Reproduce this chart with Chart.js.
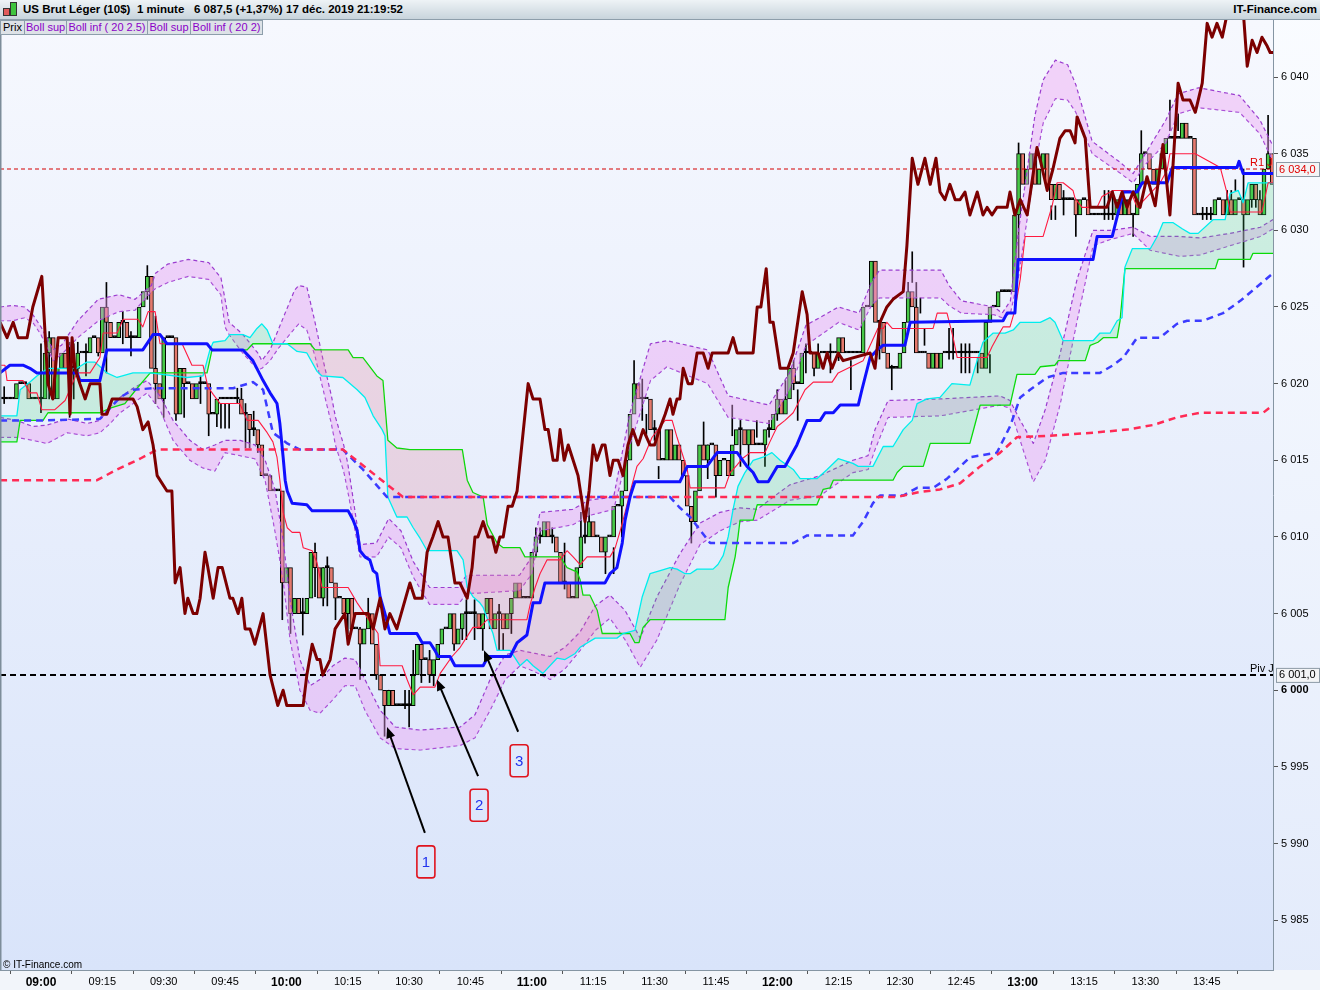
<!DOCTYPE html>
<html>
<head>
<meta charset="utf-8">
<script src="https://cdn.jsdelivr.net/npm/chart.js@4.4.1/dist/chart.umd.min.js"></script>
<style>
  body { margin:0; width:1320px; height:990px; overflow:hidden; position:relative;
         background:linear-gradient(#fafcff,#e3ebfb); font-family:"Liberation Sans",Arial,sans-serif; }
  #head { position:absolute; left:0; top:0; width:1320px; height:19px; border-bottom:1px solid #8d9eab;
          background:linear-gradient(#eef3f6,#c8d4dc); font-size:11.5px; font-weight:bold; line-height:19px; }
  #head span { position:absolute; top:0; white-space:nowrap; }
  #head i { position:absolute; width:5px; border:1px solid #333; }
  #leg { position:absolute; left:0; top:20px; height:14px; z-index:2; }
  #leg span { position:absolute; top:0; height:13px; line-height:13px; font-size:11px; color:#8a00c8; text-align:center;
              background:#dde2e7; border:1px solid #8d9eab; padding:0 1px; white-space:nowrap; overflow:hidden; }
  #wrap { position:absolute; left:0; top:20px; width:1320px; height:970px; }
</style>
</head>
<body>
<div id="head">
  <i style="left:3px;top:8px;height:6px;background:#e05a5a"></i>
  <i style="left:10px;top:2px;height:12px;background:#3fc43f"></i>
  <span style="left:23px">US Brut Léger (10$)</span>
  <span style="left:137px">1 minute</span>
  <span style="left:194px">6 087,5 (+1,37%)</span>
  <span style="left:286px">17 déc. 2019 21:19:52</span>
  <span style="right:3px">IT-Finance.com</span>
</div>
<div id="leg">
  <span style="left:0;width:21px;color:#000">Prix</span>
  <span style="left:24px;width:39px">Boll sup</span>
  <span style="left:66px;width:78px">Boll inf ( 20 2.5)</span>
  <span style="left:147px;width:40px">Boll sup</span>
  <span style="left:190px;width:69px">Boll inf ( 20 2)</span>
</div>
<div id="wrap"><canvas id="chart" width="1320" height="970"></canvas></div>
<script>
// minutes counted from 09:00, one candle per minute from 08:50
const firstMinute = -10;
const firstOpen = 6019;
const closes = [
  6019, 6019, 6019, 6019, 6020, 6020, 6020, 6019, 6019, 6019,
  6019, 6022, 6023, 6019, 6021, 6022, 6021, 6021, 6021, 6022, 6022, 6022, 6023, 6023, 6022, 6025,
  6024, 6023, 6023, 6024, 6024, 6023, 6023, 6023, 6025, 6026,
  6027, 6021, 6020, 6019, 6023, 6023, 6023, 6018, 6021, 6020,
  6020, 6019, 6020, 6020, 6020, 6018, 6018, 6019, 6019, 6019,
  6019, 6019, 6019, 6018, 6018, 6017, 6017, 6016, 6014, 6014,
  6013, 6013, 6013, 6007, 6008, 6005, 6006, 6005, 6005, 6006,
  6009, 6008, 6006, 6008, 6008, 6007, 6006, 6006, 6005, 6006,
  6004, 6004, 6003, 6004, 6005, 6003, 6001, 6000, 5999, 6000,
  5999, 5999, 5999, 5999, 5999, 6001, 6003, 6002, 6002, 6001,
  6002, 6003, 6004, 6004, 6005, 6003, 6004, 6005, 6005, 6005,
  6005, 6004, 6005, 6006, 6004, 6005, 6005, 6004, 6005, 6006,
  6007, 6006, 6006, 6006, 6009, 6010, 6010, 6011, 6010, 6010,
  6009, 6007, 6007, 6006, 6006, 6008, 6010, 6010, 6011, 6010,
  6010, 6009, 6010, 6010, 6012, 6012, 6013, 6015, 6018, 6020,
  6019, 6019, 6019, 6017, 6017, 6015, 6015, 6017, 6015, 6016,
  6015, 6014, 6012, 6011, 6013, 6016, 6015, 6016, 6016, 6014,
  6015, 6015, 6014, 6016, 6017, 6017, 6016, 6017, 6016, 6016,
  6016, 6017, 6017, 6018, 6019, 6018, 6019, 6021, 6020, 6020,
  6022, 6022, 6022, 6021, 6022, 6022, 6022, 6022, 6022, 6023,
  6022, 6022, 6022, 6022, 6022, 6025, 6025, 6028, 6024, 6024,
  6022, 6021, 6021, 6021, 6022, 6024, 6026, 6025, 6022, 6022,
  6022, 6021, 6022, 6021, 6022, 6022, 6022, 6022, 6022, 6022,
  6022, 6022, 6022, 6022, 6021, 6024, 6025, 6025, 6026, 6026,
  6026, 6026, 6031, 6035, 6033, 6034, 6035, 6033, 6034, 6035,
  6033, 6032, 6033, 6032, 6032, 6032, 6032, 6031, 6032, 6032,
  6031, 6031, 6031, 6031, 6031, 6031, 6031, 6032, 6031, 6032,
  6031, 6031, 6033, 6035, 6035, 6034, 6033, 6034, 6035, 6036,
  6036, 6036, 6036, 6037, 6036, 6036, 6031, 6031, 6031, 6031,
  6031, 6032, 6032, 6031, 6032, 6031, 6032, 6032, 6031, 6032,
  6033, 6032, 6031, 6034, 6035, 6033
];
// [minute, high, low] for the visible wicks
const wicks = [
  [-9,6019.8,6018.7],[0,6022.6,6018.1],[2,6023.4,6019],[3,6022.7,6019],[7,6022.7,6017.8],[8,6022.6,6019],
  [9,6022.7,6020.5],[11,6022.6,6020.5],[14,6022.7,6021.8],[16,6026.6,6020.7],[20,6024.7,6022.6],[22,6023.4,6021.8],
  [26,6027.7,6025.5],[28,6024.4,6018.7],[30,6022.6,6017.8],[33,6022.6,6017.6],[35,6020.5,6017.8],[39,6020.5,6018.7],
  [41,6019.7,6016.6],[43,6018.7,6017.2],[44,6018.7,6017.1],[45,6018.7,6017.1],[46,6018.7,6017.1],[48,6019.7,6018.7],
  [49,6019.7,6018.5],[50,6018.7,6015.8],[51,6017.6,6015.8],[52,6018.2,6016.6],[53,6016.5,6015.5],[59,6007,6004.6],
  [61,6007.6,6003.7],[64,6006,6003.6],[67,6009.6,6006.1],[69,6008,6005.5],[70,6008.7,6005.5],[72,6006.3,6004.6],
  [75,6005.7,6003.7],[78,6004.1,6000.7],[80,6006,6004.6],[82,6002.1,6000.7],[84,5999.4,5997],[85,6000,5999.4],
  [89,6000,5998.8],[90,6000,5997.6],[91,6002.6,5999.6],[93,6002,6000.5],[95,6002.6,6000.5],[96,6001.5,6000.3],
  [101,6004.6,6002.6],[103,6004.6,6003.3],[104,6005.9,6003.3],[106,6005.9,6003.3],[108,6004,6002.6],[112,6005.6,6002.6],
  [113,6003.7,6002.6],[115,6005.6,6003.7],[121,6010.6,6008.7],[122,6010.6,6009.6],[125,6010.6,6009.6],[128,6009.6,6006.6],
  [132,6011.6,6009.6],[133,6011.6,6009.6],[134,6011.9,6010.6],[138,6009,6007.6],[140,6009.3,6007.6],[142,6012.2,6010],
  [145,6021.5,6019.6],[147,6020.3,6017.6],[148,6018,6016.5],[150,6017.6,6016.3],[151,6014.6,6013.8],[159,6011.6,6009.6],
  [162,6017.5,6016],[163,6016,6013.8],[165,6015,6012.6],[168,6015,6014],[169,6018.6,6016.6],[171,6017.6,6014.6],
  [173,6016.5,6014.6],[175,6017.6,6016.5],[177,6016.5,6014.6],[178,6017.6,6016.5],[180,6019.6,6017.6],[182,6020.2,6019],
  [184,6021.5,6019.6],[185,6019.6,6017.6],[187,6022.6,6020.7],[189,6021.5,6020.5],[190,6022.6,6021.5],[193,6022.6,6020.7],
  [195,6022.6,6021.5],[198,6021.5,6019.6],[201,6025,6024],[205,6024,6021.6],[208,6021.2,6019.6],[212,6026.6,6024.6],
  [213,6028.6,6026.6],[214,6026.6,6023.6],[215,6025.6,6024.6],[216,6023.6,6022.5],[222,6023.6,6021.6],[223,6023.6,6021.6],
  [225,6022.6,6020.7],[226,6022.6,6020.7],[227,6022.6,6020.7],[229,6021.7,6020.7],[232,6021.9,6020.7],[239,6035.7,6028],
  [247,6031.6,6030.7],[248,6031.6,6030.7],[250,6032.6,6031],[253,6031,6029.6],[260,6032.6,6030.7],[261,6032.6,6030.7],
  [262,6032.6,6030.7],[267,6031,6029.6],[269,6036.5,6034.5],[276,6038.5,6036.5],[278,6037.6,6036.5],[284,6031.5,6030.7],
  [285,6031.5,6030.7],[286,6031.5,6030.7],[290,6032.6,6031.5],[291,6032.6,6031.5],[292,6033.3,6032.6],[294,6034,6027.6],
  [296,6032.6,6031.5],[297,6032.6,6031.5],[298,6032.6,6031.5],[300,6037.5,6034]
];
// lagging line (close drawn 26 minutes back)
const chikou = [
  [-10,6024],[-8.3,6023],[-6.8,6024],[-5.6,6023],[-3.4,6023],[-2,6025],[0.2,6027],[1.7,6020],[2.9,6019],[4.2,6023],
  [6.4,6023],[7.1,6018],[7.6,6023],[8.3,6021],[9.5,6020],[10.8,6019],[12,6020],[14.4,6020],[14.9,6018],[16.1,6018],
  [17.4,6019],[22.5,6019],[23.5,6018.5],[24.9,6017],[26.2,6017.5],[27.4,6016],[28.4,6014],[30.8,6013],[32,6013],[32.8,6007],
  [34,6008],[35.2,6005],[35.9,6006],[37.2,6005],[38.1,6005],[38.9,6006],[40.1,6009],[40.8,6008],[42.1,6006],[43.3,6008],
  [44.3,6008],[46.2,6006],[46.9,6006],[48.2,6005],[49.1,6006],[49.9,6004],[51.1,6004],[52.3,6003],[54.3,6005],[56,6001],
  [57.9,5999],[59.2,6000],[60.1,5999],[64.1,5999],[65,6001],[66.3,6003],[67.5,6002],[68.2,6002],[68.9,6001],[70.7,6002],
  [71.9,6004],[74.3,6005],[75.1,6003],[76.8,6005],[80,6005],[81.2,6004],[82.9,6006],[84.1,6004],[85.3,6005],[87,6004],
  [90.2,6007],[91.4,6006],[93.2,6006],[94.4,6009],[95.8,6010],[97.1,6011],[98.3,6010],[99.5,6010],[101.2,6007],[102.4,6007],
  [104.2,6006],[105.4,6008],[106.1,6010],[106.8,6010],[108.1,6011],[109.3,6010],[110.3,6010],[111.2,6009],[112.2,6010],[113,6010],
  [114.2,6012],[115.2,6012],[116.4,6013],[119.1,6020],[120.3,6019],[122,6019],[123.2,6017],[124,6017],[125.2,6015],[126.2,6015],
  [126.9,6017],[127.9,6015],[128.9,6016],[130.1,6015],[131.3,6014],[133,6011],[134,6013],[135,6016],[135.9,6015],[137.2,6016],
  [137.9,6016],[139.1,6014],[139.9,6015],[141.1,6015],[142.3,6014],[143.5,6016],[144.7,6017],[146,6016],[147.2,6017],[148.9,6016],
  [150,6016],[151.2,6017],[152.6,6018],[153.8,6019],[154.5,6018],[155.5,6019],[156.2,6019],[157,6021],[158.2,6020],[159.2,6020],
  [160.4,6022],[161.9,6022],[163.1,6021],[164.1,6022],[168,6022],[169.2,6023],[170.2,6022],[174.1,6022],[175.1,6025],[176,6025],
  [177.3,6027.5],[178.2,6024],[179,6024],[180.7,6021],[182.6,6021],[183.9,6022],[186.1,6026],[187.3,6024.5],[188,6022],[188.8,6022],
  [190,6022],[191.2,6021],[192.2,6022],[193.4,6021],[194.9,6022],[196.1,6021.5],[202.7,6022],[203.9,6021],[205.1,6024],[206.8,6025],
  [208.3,6025.5],[210.8,6026],[211.7,6029],[213,6034.7],[214.4,6033],[216.1,6034.7],[217.4,6033],[218.8,6034.7],[219.8,6032.5],[221,6032],
  [222.2,6033],[223.5,6032],[224.7,6032],[225.9,6032.5],[227.1,6031],[228.9,6032.5],[230.3,6031],[231.3,6031.5],[232.5,6031],[233.7,6031.5],
  [236.2,6031.5],[236.9,6032.5],[238.1,6031],[239.4,6032],[241.1,6031],[243.5,6035.4],[244.3,6034.6],[246,6032.6],[247.4,6034],[249.1,6036],
  [250.4,6036.5],[251.6,6036.5],[252.8,6035.7],[253.3,6037.4],[255.3,6036],[256.5,6031.5],[260.6,6031.5],[261.9,6032.5],[263.1,6031.5],[264.3,6032.5],
  [265.5,6031.5],[267,6032.5],[268.7,6031.5],[270.4,6033.5],[272.4,6031.6],[274.3,6035.6],[276,6031],[278,6039.6],[279.2,6038.5],[280.9,6038.5],
  [282.2,6037.7],[283.9,6039.6],[285.1,6043.5],[286.3,6042.6],[287.5,6043.5],[288.8,6042.6],[290.2,6044.4],[293.9,6044.4],[294.9,6040.7],[296.1,6042.4],
  [297.3,6041.6],[298.5,6042.6],[299.8,6042],[300.5,6041.6],[301.2,6041.6]
];
const kijun = [
  [-10,6020.7],[-7.6,6021.2],[-4.4,6021.2],[-2.7,6021],[-1,6020.7],[8.8,6020.7],[9.5,6020.2],[14.4,6020.2],[16.1,6022.2],[24.9,6022.2],
  [27.4,6023.2],[29.1,6023.2],[30.8,6022.6],[40.6,6022.6],[41.8,6022.2],[49.4,6022.2],[51.8,6021.5],[54.3,6020.2],[56,6019.4],[57.7,6018.7],
  [58.4,6017.4],[59.2,6015.2],[59.7,6013.7],[60.2,6013],[61.4,6012.2],[65,6012.1],[66.3,6011.7],[75.1,6011.7],[76.3,6011.1],[77.3,6010.4],
  [78,6009.1],[79.2,6008.7],[80.4,6008.5],[81.2,6007.8],[82.1,6007.6],[82.9,6006.1],[84.1,6005],[85.3,6003.7],[91.9,6003.7],[93.2,6003.1],
  [95.1,6003.1],[96.3,6002.6],[97.1,6002.2],[100,6002.2],[101.2,6001.6],[108.1,6001.6],[109.3,6002.2],[114.7,6002.2],[116.4,6003.1],[118.8,6003.6],
  [120.3,6005.7],[122,6005.7],[123.2,6007],[137.9,6007],[139.1,6007.6],[140.8,6008],[142.1,6009.6],[142.8,6011.1],[144,6012.6],[145.2,6013.6],
  [156.2,6013.6],[158,6014.6],[162.8,6014.6],[165.3,6015.5],[170.2,6015.5],[172.6,6014.6],[174.1,6014.2],[175.3,6013.6],[177.8,6013.6],[180,6014.6],
  [181.9,6014.6],[184.8,6016],[187.3,6017.6],[190.5,6017.6],[191.7,6018.1],[193.7,6018.1],[195.4,6018.6],[199.8,6018.6],[200.7,6019.6],[202.7,6021.7],
  [204.4,6022.2],[205.9,6022.5],[211.2,6022.5],[212.5,6024],[235.2,6024.1],[236.2,6024.6],[238.1,6024.6],[238.9,6028.1],[257.2,6028.1],[258.2,6029.6],
  [261.9,6029.6],[264.6,6032.5],[268,6032.5],[269.2,6033.1],[275.3,6033.1],[276.6,6034.1],[292.4,6034.1],[292.9,6034.5],[293.9,6033.7],[301.2,6033.7]
];
const tenkan = [
  [-10,6021.2],[-8.8,6021.2],[-8.3,6020.2],[-4.4,6020.2],[-2.7,6019.4],[-1,6019.4],[0.2,6018.3],[3.4,6018.3],[5.9,6018.9],[8.8,6020.7],
  [12,6020.7],[14.4,6021.7],[15.2,6023.3],[18.6,6023.3],[20.1,6024.2],[23.7,6024.2],[24.9,6023.7],[26.2,6024.7],[27.9,6024.7],[29.1,6022.6],
  [34.5,6022.6],[36.9,6021.2],[39.6,6021.2],[40.8,6019.8],[42.1,6019.3],[43.8,6018.7],[48.6,6018.7],[50.4,6017.6],[53.1,6017.6],[55.3,6016.8],
  [56.7,6016.2],[57.7,6015.2],[58.4,6013.7],[59.2,6011.6],[60.2,6010.6],[61.4,6010.3],[63.3,6010.3],[64.1,6009.3],[66.3,6009.1],[67.5,6008.3],
  [68.7,6006.7],[75.1,6006.7],[77.3,6005.7],[82.4,6003.7],[82.9,6001.6],[88.3,6001.6],[89.5,6000.7],[91,5999.7],[92.7,6000.2],[96.3,6000.2],
  [97.6,6001.1],[100.5,6002.2],[102.5,6002.8],[103.7,6003.3],[105.6,6004.1],[107.3,6004.1],[109.1,6004.6],[118.8,6004.6],[119.6,6005.6],[120.8,6006.7],
  [122,6007.6],[123.7,6008.5],[126.9,6008.5],[128.6,6009.1],[130.1,6008.7],[131.8,6008.2],[133.5,6008.7],[139.1,6008.7],[140.4,6009.3],[141.6,6010.4],
  [142.8,6011.6],[144,6012.9],[145.7,6014.6],[147.2,6015.1],[149.4,6016.5],[152.6,6017.6],[154.3,6017.6],[155.5,6016.5],[158,6014.4],[158.7,6013.2],
  [167.2,6013.2],[168.5,6014.2],[170.2,6014.7],[171.4,6015.1],[173.4,6015.5],[177,6015.5],[178.2,6016.2],[180,6017.2],[181.9,6017.6],[183.9,6018.1],
  [186.8,6019.6],[188.8,6020.1],[193.4,6020.1],[194.9,6020.7],[201,6021.5],[202.2,6022.2],[204.6,6023.6],[205.9,6023.6],[206.8,6024],[208.1,6023.6],
  [218.1,6023.6],[219.1,6024.6],[221.5,6024.6],[223,6023],[224,6021.7],[231.3,6021.7],[232.5,6022.4],[233.7,6023],[235.2,6023.7],[236.9,6023.7],
  [238.1,6024.8],[239.4,6026.8],[240.6,6029.6],[245,6029.6],[247.2,6031.6],[248.4,6033.1],[249.9,6033.1],[252.3,6032.6],[252.8,6032.1],[254.5,6031.5],
  [258.2,6031.5],[259.4,6032.2],[262.1,6032.6],[266.3,6032.6],[268,6031.5],[273.6,6033.1],[275.3,6033.9],[276,6035],[282.2,6035],[288.3,6034.1],
  [290,6032.4],[290.7,6031.2],[298.5,6031.2],[300,6033.1],[301.2,6033.1]
];
const spanA = [
  [-10,6017.9],[-5.9,6017.9],[-5.1,6019.6],[-2.7,6020.1],[-1,6020.5],[1.7,6021],[8.8,6021],[11.2,6021.4],[13.2,6021.4],[14.9,6021],
  [16.1,6020.7],[18.6,6020.4],[22.5,6020.7],[26.7,6020.7],[35.7,6020.4],[39.6,6020.5],[41.3,6022.2],[42.1,6022.7],[45,6022.8],[46.2,6023.2],
  [49.4,6023.2],[51.1,6023],[52.8,6023.6],[54,6023.9],[55.3,6023.5],[56.7,6022.6],[60.2,6022.6],[62.6,6022.1],[65,6022],[67.5,6020.8],
  [68.7,6020.5],[73.8,6020.4],[77.3,6019.6],[79.2,6019.1],[81.2,6017.9],[83.4,6017],[84.1,6016.6],[84.8,6012.6],[87,6011.3],[89.5,6011.3],
  [91,6010.6],[92.7,6009.9],[94.4,6009.1],[101.7,6009.1],[103.2,6008.5],[104.2,6006.7],[105.6,6006.1],[107.3,6005.7],[108.1,6005.4],[110.5,6003.7],
  [111.5,6002.6],[114.7,6002.6],[117.1,6001.6],[118.8,6002],[120.3,6001.6],[122.7,6001.1],[126.2,6002.1],[128.1,6002],[130.6,6002.4],[131.8,6002.8],
  [135.5,6003.4],[140.8,6003.4],[142.3,6003.7],[145.2,6003.9],[147,6006.1],[148.9,6007.6],[151.4,6007.8],[153.8,6008],[155.5,6007.9],[157.5,6007.6],
  [158.7,6007.6],[160.4,6007.9],[164.3,6007.9],[165.5,6008.2],[166.8,6008.8],[168,6010],[169.2,6011.8],[170.4,6013.3],[172.1,6014.2],[174.1,6015],
  [176.5,6015.2],[178.7,6015.5],[180.7,6015],[183.9,6014.4],[185.6,6013.8],[189.7,6013.8],[192.2,6014.4],[194.9,6015.1],[198.5,6014.8],[199.8,6014.6],
  [203.4,6014.6],[205.9,6015.9],[208.3,6015.9],[210.8,6017],[213,6017.6],[214.2,6018.7],[216.6,6019],[219.8,6019.1],[222.7,6020],[227.1,6019.9],
  [228.4,6021.1],[230.3,6022.7],[232.8,6023.3],[235.7,6023.3],[237.7,6023.5],[239.4,6024],[244.3,6024],[246.7,6024.3],[247.9,6024],[249.9,6022.8],
  [257.2,6022.8],[258.9,6023.3],[261.4,6023.3],[263.1,6024.1],[264.3,6024.3],[265,6027.6],[266.8,6028.8],[271.2,6028.8],[272.9,6029.6],[274.3,6030.5],
  [276.8,6030.5],[279,6030.1],[280.9,6029.8],[282.9,6029.8],[286.6,6030.7],[289.5,6030.7],[290.7,6032.4],[292.7,6032.6],[293.9,6031.8],[295.1,6033.1],
  [301.2,6033.1]
];
const spanB = [
  [-10,6016.2],[-5.9,6016.2],[-5.1,6017.6],[0.5,6017.6],[1.7,6018.1],[14.4,6018.1],[16.9,6018.4],[20.5,6018.7],[23.5,6019.7],[26.7,6020.7],
  [40.6,6020.7],[41.8,6022.2],[50.4,6022.2],[51.8,6022.6],[65.8,6022.6],[67,6022.2],[75.1,6022.2],[76.3,6021.7],[78.7,6021.7],[82.1,6020.5],
  [83.6,6020.2],[84.8,6016.3],[87,6015.8],[90.2,6015.7],[103,6015.7],[104.2,6013.7],[105.6,6012.9],[108.1,6012.6],[109.1,6010.8],[111.5,6009.6],
  [113,6009.3],[117.1,6009.3],[118.3,6008.7],[126.9,6008.7],[128.6,6008],[131.1,6007.7],[131.8,6007.2],[132.5,6006.2],[134.2,6006.2],[136,6005.2],
  [137.2,6003.7],[144,6003.7],[145.2,6003.1],[146.2,6003.1],[147.2,6004.1],[148.9,6004.6],[167.2,6004.6],[168,6006.7],[169.7,6008.7],[170.4,6010],
  [170.9,6011.1],[174.1,6011.1],[175.1,6012.1],[189.7,6012.1],[191.2,6013.1],[192.9,6013.2],[193.7,6013.7],[208.3,6013.7],[209.3,6014.2],[210.8,6014.6],
  [215.7,6014.6],[217.4,6016.1],[227.1,6016.1],[228.4,6017.4],[229.6,6018.6],[236.9,6018.6],[238.6,6020.6],[243,6020.6],[244.3,6021.1],[247.9,6021.2],
  [248.7,6021.5],[255.3,6021.5],[256.5,6022.5],[258.4,6022.7],[259.7,6023],[263.1,6023],[263.8,6024.1],[265,6027.5],[287.1,6027.5],[287.8,6028.1],
  [295.6,6028.1],[296.3,6028.5],[301.2,6028.5]
];
// Bollinger 20: outer (2.5) and inner (2) bands
const bollUpperT = [-10,-7,-4,-2,0,3,5,9,14,19,23,27,28,31,36,41,44,45,46,49,50,53,54,56,58,62,63,65,67,69,71,72,74,75,78,82,85,88,91,95,
  102,104,117,120,122,130,134,140,144,149,153,163,168,178,183,187,195,200,203,205,220,222,225,233,235,237,239,243,245,248,251,253,257,264,267,270,275,278,283,293,298,301];
const bollUpper25 = [6025,6025.1,6025,6024.5,6023.7,6022.2,6022.5,6024.1,6025.5,6025.8,6025.5,6026.4,6027.2,6027.8,6028.1,6027.9,6026.9,6025.5,6024,6023.3,
  6023,6022,6021.5,6022.2,6023.5,6026.1,6026.4,6026.3,6024,6021.5,6019.2,6017.8,6016,6014.8,6009.5,6009.6,6011.2,6010.4,6008.4,6006.7,
  6006.7,6007.5,6007.5,6008.7,6011.6,6011.8,6012.4,6012.6,6018.1,6022.6,6022.8,6022.2,6019.2,6018.6,6020.7,6023.8,6025,6024.6,6026.6,6027.4,
  6027.4,6026.4,6025.4,6025,6024.6,6025.4,6030,6037.5,6039.8,6041.1,6040.8,6039.5,6035.8,6034.4,6033.7,6035,6037.2,6038.9,6039.3,6038.8,6037.2,6035.6];
const bollUpper20 = [6024.1,6024.1,6024.3,6024,6023.2,6021.5,6021.9,6023,6024.1,6024.7,6024.8,6026,6026.2,6026.6,6027,6026.8,6025.8,6023.7,6023.2,6022.1,
  6021.8,6020.9,6021,6021.5,6022.3,6023.6,6023.9,6023.5,6021.8,6019.6,6017.4,6016,6014.3,6013,6008.7,6008.7,6010,6009.3,6007.4,6005.6,
  6005.6,6006.3,6006.5,6007.6,6010.4,6010.8,6011.4,6011.8,6016,6020.2,6021.1,6020,6017.8,6017.4,6019.6,6022.5,6024,6023.5,6025.1,6025.6,
  6025.6,6025.1,6024.6,6024.5,6024.3,6024.6,6027,6034.2,6037,6038.6,6038.5,6037.7,6035,6033.7,6033.1,6034.3,6035.7,6037.6,6038,6037.7,6036.3,6034.6];
const bollLowerT = [-10,-5.9,-2,1.5,6.4,11.3,14.4,16.9,19.3,22.5,25.9,29.1,32.3,36.4,39.6,42.5,45,48.7,52.3,54.8,57.2,59.2,60.9,63.3,65.8,68.2,71.4,74.3,76.8,79.2,
  82.9,86.6,92.7,102.5,106.1,109.8,113.5,117.1,120.8,124.5,128.1,131.8,135.5,139.1,142.8,146.5,150.6,156.2,161.1,166,170.9,175.1,179.5,183.1,190.5,198.5,202.2,203.9,207.1,219.8,
  234.5,236.9,239.4,242.6,245.5,249.2,253.3,257.2,261.4,267,271.2,278.5,283.4,290.7,298.1,301.2];
const bollLower20 = [6017.8,6017.6,6017.2,6017.3,6017.7,6017.4,6017.6,6018.5,6019.1,6019.7,6020.2,6019.2,6017.6,6016.3,6015.7,6016,6016.3,6016.3,6016,6015,
  6013.1,6009.8,6005.9,6002,6000.3,6000.7,6001.6,6002.1,6002,6000.7,5998.7,5997.6,5997.4,5997.6,5998.4,6000.7,6002.3,6002.6,6002.4,6002.2,
  6002.8,6003.8,6005.5,6006.2,6005.2,6003.4,6006.1,6008.9,6010.9,6011.6,6011.9,6011.8,6012.7,6013.4,6014,6015,6015.3,6017,6018.9,6019,
  6019.2,6018.9,6017.6,6016.1,6018.3,6022,6026.8,6030,6030,6030.2,6029.6,6029.6,6029.5,6029.8,6030.2,6030.7];
const bollLower25 = [6016.5,6016.5,6016.3,6016.1,6016.8,6016.6,6016.8,6017.4,6018.1,6018.7,6019.4,6018.3,6016.3,6015,6014.5,6014.3,6015.5,6015.3,6015.1,6013.7,
  6010.4,6007.2,6003.3,6000,5998.7,5998.5,5999.4,6000.3,6000.3,5998.7,5996.9,5996.2,5996.1,5996.4,5996.9,5998.7,6000.7,6001.6,6001.2,6000.7,
  6001.4,6002.6,6003.9,6004.7,6003.3,6001.5,6003.3,6006.9,6009.5,6010.4,6011,6011.1,6011.8,6012.4,6012.7,6014.2,6014.4,6015.7,6017.8,6017.9,
  6018.6,6018.4,6016.3,6013.6,6015,6018.7,6024.1,6029,6029.4,6029.8,6028.7,6028.3,6028.4,6029,6029.6,6030.1];
const maBlue = [
  [-10,6017.6],[0.5,6017.6],[14.4,6017.7],[16.9,6018.4],[19.3,6019.1],[22.5,6019.6],[27.4,6019.7],[47,6019.7],[51.8,6020.1],[54.3,6019.6],
  [56.7,6016.8],[60.2,6016.1],[63.3,6015.7],[73.8,6015.7],[78.7,6014.4],[84.6,6012.6],[153.8,6012.6],[156.2,6011.9],[158.7,6011.3],[163.6,6009.6],
  [183.9,6009.6],[187.3,6010.1],[198.5,6010.1],[201,6011],[203.4,6012.2],[205.1,6012.7],[210.8,6012.7],[214.2,6013.2],[218.1,6013.2],[221.5,6013.8],
  [224,6014.4],[227.1,6015.2],[233.7,6015.5],[236.9,6017.2],[239.4,6019.1],[241.8,6019.6],[246,6020.4],[249.9,6020.7],[258.9,6020.7],[262.1,6021.2],
  [264.6,6021.7],[268,6023],[273.6,6023],[277.7,6023.9],[280.2,6024.1],[284.1,6024.1],[289,6024.6],[293.2,6025.4],[298.1,6026.5],[301.2,6027.2]
];
const maRed = [
  [-10,6013.7],[13.7,6013.7],[18.6,6014.4],[24.2,6015.1],[28.4,6015.7],[73.8,6015.7],[88.5,6012.6],[209.3,6012.6],[214.2,6012.9],[219.8,6013.1],
  [224.7,6013.5],[229.6,6014.6],[234.5,6015.5],[238.6,6016.5],[246.7,6016.6],[257.2,6016.8],[265.5,6017],[271.9,6017.3],[277.7,6017.8],[283.4,6018.1],
  [298.8,6018.1],[301.2,6018.6]
];
const pivotNames = ['R1 J', 'Piv J'];
const pivotLevels = [6034.0, 6001.0];
const noteLabels = ['1', '2', '3'];
const noteBox = [[94.1, 5988.8], [107.1, 5992.5], [116.9, 5995.4]];
const noteTip = [[84.6, 5997.6], [96.8, 6000.7], [108.3, 6002.6]];
const priceTicks = [5985, 5990, 5995, 6000, 6005, 6010, 6015, 6020, 6025, 6030, 6035, 6040];
const timeTicks = [0, 15, 30, 45, 60, 75, 90, 105, 120, 135, 150, 165, 180, 195, 210, 225, 240, 255, 270, 285];

const GREEN = '#47c847', RED = '#e4796d', VIOLET = '#9b3dcf';
const PINK = 'rgba(236,160,244,0.42)';
const xy = list => list.map(p => ({ x: p[0], y: p[1] }));
const zip = (t, v) => t.map((x, i) => ({ x, y: v[i] }));
const fmtPrice = v => String(v).replace(/\B(?=(\d{3})+(?!\d))/g, ' ');
const fmtTime = m => { const t = 540 + m; return String(Math.floor(t / 60)).padStart(2, '0') + ':' + String(t % 60).padStart(2, '0'); };

const bodies = closes.map((c, i) => ({ x: firstMinute + i, y: [i ? closes[i - 1] : firstOpen, c] }));
const bodyColors = bodies.map(b => b.y[1] > b.y[0] ? GREEN : b.y[1] < b.y[0] ? RED : '#000');
const line = (data, color, width, extra) => Object.assign({ type: 'line', data, borderColor: color, borderWidth: width,
  pointRadius: 0, fill: false, tension: 0, borderJoinStyle: 'round' }, extra || {});
const bollDash = { borderDash: [4, 3] };

const decor = {
  id: 'decor',
  beforeDraw(chart) {
    const { ctx, chartArea: a } = chart;
    const g = ctx.createLinearGradient(0, a.top, 0, a.bottom);
    g.addColorStop(0, '#f6f8fe');
    g.addColorStop(1, '#d9e4fa');
    ctx.save();
    ctx.fillStyle = g;
    ctx.fillRect(a.left, a.top, a.right - a.left, a.bottom - a.top);
    ctx.fillStyle = '#f2f5fa';
    ctx.fillRect(0, a.bottom, chart.width, chart.height - a.bottom);
    ctx.restore();
  },
  afterDatasetsDraw(chart) {
    const { ctx, scales: { x, y } } = chart;
    ctx.save();
    noteLabels.forEach((lab, i) => {
      const bx = x.getPixelForValue(noteBox[i][0]), by = y.getPixelForValue(noteBox[i][1]);
      const tx = x.getPixelForValue(noteTip[i][0]), ty = y.getPixelForValue(noteTip[i][1]);
      const sx = bx - 1, sy = by - 29;
      const ang = Math.atan2(ty - sy, tx - sx);
      ctx.strokeStyle = '#000'; ctx.fillStyle = '#000'; ctx.lineWidth = 2;
      ctx.beginPath(); ctx.moveTo(sx, sy);
      ctx.lineTo(tx - 9 * Math.cos(ang), ty - 9 * Math.sin(ang)); ctx.stroke();
      ctx.beginPath(); ctx.moveTo(tx, ty);
      ctx.lineTo(tx - 11 * Math.cos(ang) + 4.5 * Math.sin(ang), ty - 11 * Math.sin(ang) - 4.5 * Math.cos(ang));
      ctx.lineTo(tx - 11 * Math.cos(ang) - 4.5 * Math.sin(ang), ty - 11 * Math.sin(ang) + 4.5 * Math.cos(ang));
      ctx.closePath(); ctx.fill();
      ctx.strokeStyle = '#e0141e'; ctx.lineWidth = 1.6;
      ctx.beginPath(); ctx.roundRect(bx - 9, by - 16, 18, 32, 3); ctx.stroke();
      ctx.fillStyle = '#2233ee'; ctx.font = '15px "Liberation Sans", Arial';
      ctx.textAlign = 'center'; ctx.textBaseline = 'middle';
      ctx.fillText(lab, bx, by + 1);
    });
    ctx.restore();
  },
  afterDraw(chart) {
    const { ctx, chartArea: a, scales: { y } } = chart;
    ctx.save();
    ctx.fillStyle = '#7d8d9a';
    ctx.fillRect(a.left, a.top, 1.5, a.bottom - a.top);
    ctx.font = '11px "Liberation Sans", Arial';
    pivotLevels.forEach((lv, i) => {
      const py = y.getPixelForValue(lv);
      const col = i === 0 ? '#e00000' : '#000';
      ctx.fillStyle = col; ctx.textAlign = 'left'; ctx.textBaseline = 'alphabetic';
      ctx.fillText(pivotNames[i], a.right - 23, py - 3);
      ctx.fillStyle = '#f3f4f6'; ctx.strokeStyle = '#8d9aa6'; ctx.lineWidth = 1;
      ctx.fillRect(a.right + 3, py - 7, 43, 14); ctx.strokeRect(a.right + 3.5, py - 6.5, 43, 14);
      ctx.fillStyle = col; ctx.textBaseline = 'middle';
      ctx.fillText(fmtPrice(Math.floor(lv)) + ',' + String(Math.round((lv % 1) * 10)), a.right + 6, py + 0.5);
    });
    ctx.fillStyle = '#000'; ctx.textBaseline = 'alphabetic'; ctx.font = '10px "Liberation Sans", Arial';
    ctx.fillText('\u00A9 IT-Finance.com', a.left + 3, a.bottom - 2);
    ctx.restore();
  }
};

new Chart(document.getElementById('chart'), {
  type: 'line',
  data: {
    datasets: [
      line(zip(bollUpperT, bollUpper25), VIOLET, 1.2, Object.assign({ fill: { target: '+1' }, backgroundColor: PINK, order: 10 }, bollDash)),
      line(zip(bollUpperT, bollUpper20), VIOLET, 1.2, Object.assign({ order: 10 }, bollDash)),
      line(zip(bollLowerT, bollLower20), VIOLET, 1.2, Object.assign({ fill: { target: '+1' }, backgroundColor: PINK, order: 10 }, bollDash)),
      line(zip(bollLowerT, bollLower25), VIOLET, 1.2, Object.assign({ order: 10 }, bollDash)),
      line(xy(spanA), '#00eeee', 1.3, { fill: { target: 5, above: 'rgba(60,215,110,0.2)', below: 'rgba(225,120,145,0.24)' }, order: 8 }),
      line(xy(spanB), '#00e000', 1.3, { order: 8 }),
      line(xy(maRed), '#ff2a55', 2.5, { borderDash: [7, 5], order: 7 }),
      line(xy(maBlue), '#3b3bff', 2.5, { borderDash: [7, 5], order: 7 }),
      line([{ x: -10.02, y: pivotLevels[0] }, { x: 301.2, y: pivotLevels[0] }], '#d40000', 1, { borderDash: [4, 3], order: 6 }),
      line([{ x: -10.02, y: pivotLevels[1] }, { x: 301.2, y: pivotLevels[1] }], '#000', 2, { borderDash: [6, 4], order: 6 }),
      { type: 'bar', data: wicks.map(w => ({ x: w[0], y: [w[2], w[1]] })), backgroundColor: '#000', borderWidth: 0,
        barThickness: 1, grouped: false, order: 31 },
      { type: 'bar', data: bodies, backgroundColor: bodyColors, borderColor: '#000', borderWidth: 1, borderSkipped: false,
        barThickness: 4, minBarLength: 2, grouped: false, order: 30 },
      line(xy(tenkan), '#ff1a40', 1.1, { order: 3 }),
      line(xy(kijun), '#1010ff', 3, { order: 2 }),
      line(xy(chikou), '#7c0000', 3, { order: 1 })
    ]
  },
  options: {
    responsive: false,
    animation: false,
    events: [],
    layout: { padding: 0 },
    plugins: { legend: { display: false }, tooltip: { enabled: false } },
    scales: {
      x: {
        type: 'linear', min: -10.02, max: 301.2, offset: false,
        afterBuildTicks: s => { s.ticks = timeTicks.map(v => ({ value: v })); },
        afterFit: s => { s.height = 20; s.paddingLeft = 0; s.paddingRight = 0; },
        grid: { drawOnChartArea: false, tickLength: 4, color: '#555' },
        border: { color: '#8595a3' },
        ticks: { autoSkip: false, maxRotation: 0, padding: 1, color: '#000', callback: v => fmtTime(v),
                 font: c => ({ family: '"Liberation Sans", Arial', size: c.tick && c.tick.value % 60 === 0 ? 12 : 11,
                               weight: c.tick && c.tick.value % 60 === 0 ? 'bold' : 'normal' }) }
      },
      y: {
        type: 'linear', position: 'right', min: 5981.75, max: 6043.72,
        afterBuildTicks: s => { s.ticks = priceTicks.map(v => ({ value: v })); },
        afterFit: s => { s.width = 47; s.paddingTop = 0; s.paddingBottom = 0; },
        grid: { drawOnChartArea: false, tickLength: 5, color: '#555' },
        border: { color: '#8595a3' },
        ticks: { padding: 3, color: '#000', callback: v => fmtPrice(v),
                 font: c => ({ family: '"Liberation Sans", Arial', size: 11, weight: c.tick && c.tick.value === 6000 ? 'bold' : 'normal' }) }
      }
    }
  },
  plugins: [decor]
});
</script>
</body>
</html>
